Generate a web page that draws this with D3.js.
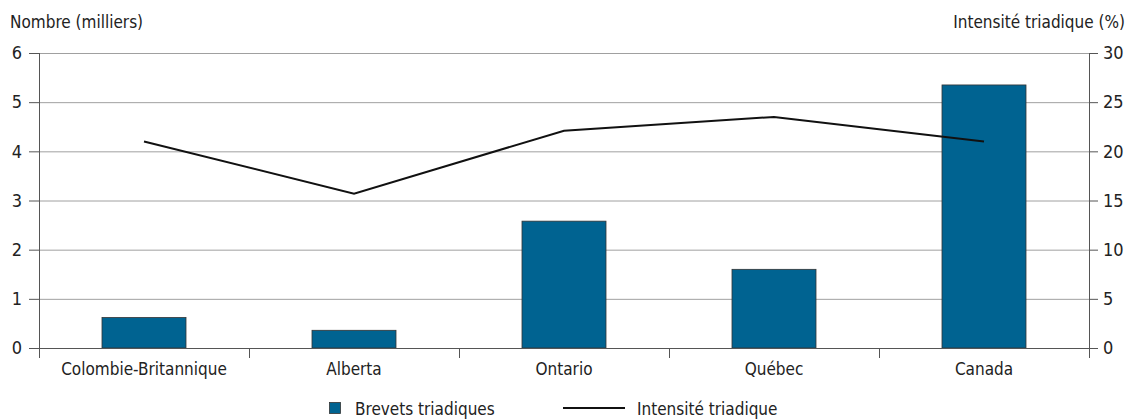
<!DOCTYPE html>
<html>
<head>
<meta charset="utf-8">
<script src="https://cdn.jsdelivr.net/npm/d3@7"></script>
<style>
  body { margin: 0; background: #fff; }
  svg { display: block; font-family: "Liberation Sans Narrow", "DejaVu Sans Condensed", "Liberation Sans", sans-serif; }
</style>
</head>
<body>
<svg id="chart" width="1134" height="419"></svg>
<script>
const categories = ["Colombie-Britannique", "Alberta", "Ontario", "Québec", "Canada"];
const brevets = [0.62, 0.36, 2.58, 1.60, 5.35];      // milliers
const intensite = [21.0, 15.7, 22.1, 23.5, 21.0];    // %
const leftTicks = [0, 1, 2, 3, 4, 5, 6];
const rightTicks = [0, 5, 10, 15, 20, 25, 30];

const svg = d3.select("#chart");
const margin = {top: 53, right: 45, bottom: 71, left: 39};
const width = 1134, height = 419;
const fs = 17;

const x = d3.scaleBand()
    .domain(categories)
    .range([margin.left, width - margin.right]);

const y = d3.scaleLinear()
    .domain([0, 6])
    .range([height - margin.bottom, margin.top]);

const y2 = d3.scaleLinear()
    .domain([0, 30])
    .range([height - margin.bottom, margin.top]);

// gridlines
svg.append("g")
  .selectAll("line")
  .data(leftTicks.slice(1))
  .join("line")
    .attr("x1", margin.left)
    .attr("x2", width - margin.right)
    .attr("y1", d => y(d) + 0.5)
    .attr("y2", d => y(d) + 0.5)
    .attr("stroke", "#a0a0a0")
    .attr("stroke-width", 1);

// bars
const bw = x.bandwidth() * 0.4;
svg.append("g")
  .selectAll("rect")
  .data(categories)
  .join("rect")
    .attr("x", (d, i) => x(d) + (x.bandwidth() - bw) / 2)
    .attr("y", (d, i) => y(brevets[i]))
    .attr("width", bw)
    .attr("height", (d, i) => y(0) - y(brevets[i]))
    .attr("fill", "#006391")
    .attr("stroke", "#333")
    .attr("stroke-width", 0.8);

// zero line
svg.append("line")
    .attr("x1", margin.left).attr("x2", width - margin.right)
    .attr("y1", y(0) + 0.5).attr("y2", y(0) + 0.5)
    .attr("stroke", "#555");

// x axis tick separators
svg.append("g")
  .selectAll("line")
  .data(categories.slice(1))
  .join("line")
    .attr("x1", d => Math.round(x(d)) + 0.5)
    .attr("x2", d => Math.round(x(d)) + 0.5)
    .attr("y1", y(0))
    .attr("y2", y(0) + 10)
    .attr("stroke", "#555");

// left axis
const ga = svg.append("g");
ga.append("line")
    .attr("x1", margin.left + 0.5).attr("x2", margin.left + 0.5)
    .attr("y1", y(6)).attr("y2", y(0) + 10)
    .attr("stroke", "#555");
ga.selectAll("g")
  .data(leftTicks)
  .join("g")
    .call(g => g.append("line")
        .attr("x1", margin.left - 10).attr("x2", margin.left)
        .attr("y1", d => y(d) + 0.5).attr("y2", d => y(d) + 0.5)
        .attr("stroke", "#555"))
    .call(g => g.append("text")
        .attr("x", margin.left - 17)
        .attr("y", d => y(d))
        .attr("dy", "0.35em")
        .attr("text-anchor", "end")
        .attr("font-size", fs + 1)
        .attr("fill", "#222")
        .text(d => d));

// right axis
const xr = width - margin.right;
const gb = svg.append("g");
gb.append("line")
    .attr("x1", xr + 0.5).attr("x2", xr + 0.5)
    .attr("y1", y2(30)).attr("y2", y2(0) + 10)
    .attr("stroke", "#555");
gb.selectAll("g")
  .data(rightTicks)
  .join("g")
    .call(g => g.append("line")
        .attr("x1", xr).attr("x2", xr + 9)
        .attr("y1", d => y2(d) + 0.5).attr("y2", d => y2(d) + 0.5)
        .attr("stroke", "#555"))
    .call(g => g.append("text")
        .attr("x", xr + 14)
        .attr("y", d => y2(d))
        .attr("dy", "0.35em")
        .attr("font-size", fs + 1)
        .attr("fill", "#222")
        .text(d => d));

// category labels
svg.append("g")
  .selectAll("text")
  .data(categories)
  .join("text")
    .attr("x", d => x(d) + x.bandwidth() / 2)
    .attr("y", y(0) + 27)
    .attr("text-anchor", "middle")
    .attr("font-size", fs)
    .attr("fill", "#222")
    .text(d => d);

// line
const line = d3.line()
    .x((d, i) => x(categories[i]) + x.bandwidth() / 2)
    .y(d => y2(d));
svg.append("path")
    .datum(intensite)
    .attr("d", line)
    .attr("fill", "none")
    .attr("stroke", "#111")
    .attr("stroke-width", 2);

// axis titles
svg.append("text")
    .attr("x", 10).attr("y", 28)
    .attr("font-size", fs).attr("fill", "#222")
    .text("Nombre (milliers)");
svg.append("text")
    .attr("x", 1125).attr("y", 28)
    .attr("text-anchor", "end")
    .attr("font-size", fs).attr("fill", "#222")
    .text("Intensité triadique (%)");

// legend
const lg = svg.append("g").attr("transform", "translate(0,409)");
lg.append("rect")
    .attr("x", 329.5).attr("y", -6.5)
    .attr("width", 11).attr("height", 11)
    .attr("fill", "#006391").attr("stroke", "#333").attr("stroke-width", 0.8);
lg.append("text")
    .attr("x", 355).attr("y", 0).attr("dy", "0.35em")
    .attr("font-size", fs).attr("fill", "#222")
    .text("Brevets triadiques");
lg.append("line")
    .attr("x1", 563).attr("x2", 625)
    .attr("y1", -1).attr("y2", -1)
    .attr("stroke", "#111").attr("stroke-width", 2);
lg.append("text")
    .attr("x", 637).attr("y", 0).attr("dy", "0.35em")
    .attr("font-size", fs).attr("fill", "#222")
    .text("Intensité triadique");
</script>
</body>
</html>
